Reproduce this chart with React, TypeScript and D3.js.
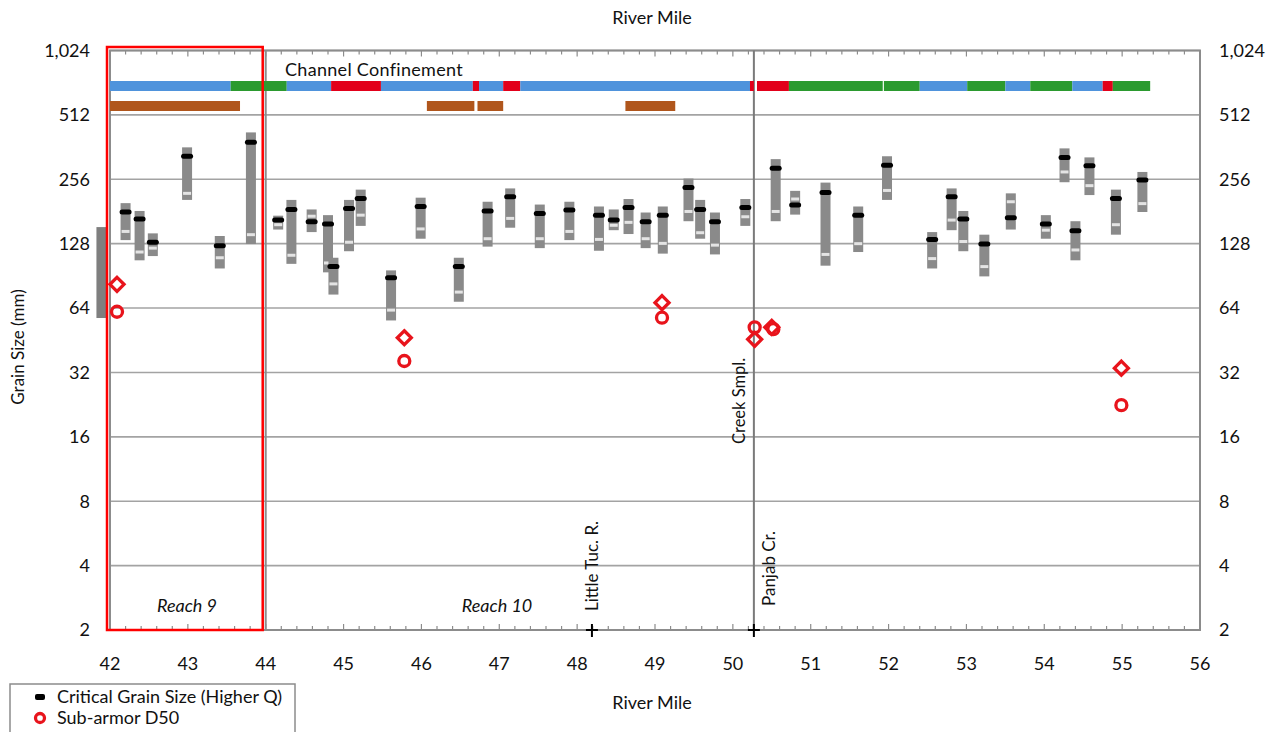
import React from "react";
import * as d3 from "d3";

const width = 1271;
const height = 732;

// Grain size bars (mm)
const barMiles = [42.2, 42.38, 42.55, 42.99, 43.41, 43.81, 44.16, 44.33, 44.59, 44.8, 44.87, 45.07, 45.22, 45.61, 45.99, 46.48, 46.85, 47.14, 47.52, 47.9, 48.28, 48.47, 48.66, 48.88, 49.1, 49.43, 49.58, 49.77, 50.16, 50.55, 50.8, 51.19, 51.61, 51.98, 52.56, 52.81, 52.96, 53.23, 53.57, 54.02, 54.26, 54.4, 54.58, 54.92, 55.26];
const barHigh = [198, 182, 143, 361, 139, 424, 173, 205, 185, 174, 110, 205, 229, 96, 210, 110, 201, 232, 195, 201, 191, 185, 207, 179, 191, 258, 205, 179, 207, 318, 226, 247, 191, 328, 145, 232, 182, 141, 220, 174, 357, 163, 324, 229, 277];
const barLow = [133, 107, 112, 205, 98, 127.5, 149, 103, 145, 94, 74, 118, 155, 56, 135, 68.5, 124, 152, 122, 133, 118.6, 148, 142, 122, 115, 163, 135, 114, 155, 163, 175, 101, 117, 205, 98, 148, 118, 90, 149, 135, 248, 107, 216, 141, 180];
const critSize = [180, 167, 130, 328, 125, 381, 165, 185, 162, 158, 100, 187, 208, 88.6, 191, 100, 182, 212, 177, 184, 174, 165, 189, 162, 174, 234, 185, 162, 189, 288, 194, 222, 174, 298, 134, 212, 167, 127.5, 169, 158, 324, 147, 296, 208, 254];
const lightSize = [146, 117, 122, 220, 110, 141, 157, 113, 172, 104, 83, 130, 174, 62.6, 150, 76, 135, 168, 135, 146, 134, 156, 161, 135, 128.4, 181, 144, 126, 171, 181, 207, 114, 128, 227, 109, 165, 131, 100, 201, 148, 277, 119.6, 239, 157, 197];

// partial bar left of the frame
const edgeBar = { mile: 41.89, high: 153, low: 57.5 };

// Channel confinement segments
const confStart = [42.0, 43.55, 44.27, 44.84, 45.48, 46.66, 46.74, 47.05, 47.27, 50.22, 50.31, 50.72, 51.94, 52.4, 53.01, 53.5, 53.82, 54.36, 54.75, 54.88];
const confEnd = [43.55, 44.27, 44.84, 45.48, 46.66, 46.74, 47.05, 47.27, 50.22, 50.27, 50.72, 51.925, 52.4, 53.01, 53.5, 53.82, 54.36, 54.75, 54.88, 55.36];
const confType = ["u", "c", "u", "p", "u", "p", "u", "p", "u", "p", "p", "c", "c", "u", "c", "u", "c", "u", "p", "c"];

const bankStart = [42.0, 46.07, 46.72, 48.62];
const bankEnd = [43.67, 46.68, 47.05, 49.26];

// Sub-armor samples
const diamondMiles = [42.09, 45.78, 49.09, 50.28, 50.5, 54.99];
const diamondSizes = [82.6, 46.5, 67.8, 45.7, 52, 33.5];
const circleMiles = [42.09, 45.78, 49.09, 50.28, 50.52, 54.99];
const circleSizes = [61.5, 36.2, 57.7, 52, 51, 22.5];

const yTicks = [2, 4, 8, 16, 32, 64, 128, 256, 512, 1024];
const xTicks = d3.range(42, 57, 1);

const confColor: Record<string, string> = {
  u: "#4f93dc",
  c: "#2b9a2f",
  p: "#e2001a",
};

const font = "Lato, 'Open Sans', sans-serif";
const red = "#e8141c";

export default function App() {
  const x = d3.scaleLinear().domain([42, 56]).range([110, 1200]);
  const y = d3.scaleLog().base(2).domain([2, 1024]).range([630, 50.5]);
  const fmt = d3.format(",");
  const minor = d3.range(0, 71).map((i) => 42 + i * 0.2);
  const x0 = x(42);
  const x1 = x(56);
  const yTop = y(1024);
  const yBot = y(2);
  const bw = 10;

  return (
    <svg
      width={width}
      height={height}
      style={{ position: "absolute", left: 0, top: 0, display: "block", background: "#fff" }}
      fontFamily={font}
    >
      {/* gridlines */}
      {yTicks.map((t) => (
        <line key={t} x1={x0} x2={x1} y1={y(t)} y2={y(t)} stroke="#a3a3a3" strokeWidth={1.6} />
      ))}

      {/* frame */}
      <rect x={x0} y={yTop} width={x1 - x0} height={yBot - yTop} fill="none" stroke="#8c8c8c" strokeWidth={2} />
      <line x1={x(44)} x2={x(44)} y1={yTop} y2={yBot} stroke="#8c8c8c" strokeWidth={2} />
      <line x1={x(50.27)} x2={x(50.27)} y1={yTop} y2={yBot} stroke="#7a7a7a" strokeWidth={2} />

      {/* minor ticks */}
      {minor.map((m, i) => {
        const len = i % 5 === 0 ? 6 : 4;
        return (
          <g key={i} stroke="#8c8c8c" strokeWidth={1.2}>
            <line x1={x(m)} x2={x(m)} y1={yBot} y2={yBot - len} />
            <line x1={x(m)} x2={x(m)} y1={yTop} y2={yTop + len} />
          </g>
        );
      })}

      {/* confinement */}
      {confStart.map((s, i) => (
        <rect key={i} x={x(s)} y={81} width={x(confEnd[i]) - x(s)} height={10} fill={confColor[confType[i]]} />
      ))}
      {bankStart.map((s, i) => (
        <rect key={i} x={x(s)} y={101} width={x(bankEnd[i]) - x(s)} height={10} fill="#b0561c" />
      ))}
      <text x={285} y={76} fontSize={18} letterSpacing={0.3} fill="#111">Channel Confinement</text>

      {/* edge bar */}
      <rect
        x={x(edgeBar.mile) - 5}
        y={y(edgeBar.high)}
        width={10}
        height={y(edgeBar.low) - y(edgeBar.high)}
        fill="#7f7f7f"
      />

      {/* grain size bars */}
      {barMiles.map((m, i) => (
        <g key={i}>
          <rect x={x(m) - bw / 2} y={y(barHigh[i])} width={bw} height={y(barLow[i]) - y(barHigh[i])} fill="#8a8a8a" />
          <rect x={x(m) - 4} y={y(lightSize[i]) - 1.5} width={8} height={3} fill="#e4e4e4" />
          <rect x={x(m) - 6} y={y(critSize[i]) - 2.5} width={12} height={5} rx={2.5} fill="#000" />
        </g>
      ))}

      {/* sub-armor markers */}
      {diamondMiles.map((m, i) => {
        const cx = x(m);
        const cy = y(diamondSizes[i]);
        return (
          <path
            key={i}
            d={`M${cx},${cy - 7}L${cx + 7},${cy}L${cx},${cy + 7}L${cx - 7},${cy}Z`}
            fill="none"
            stroke={red}
            strokeWidth={3.3}
          />
        );
      })}
      {circleMiles.map((m, i) => (
        <circle key={i} cx={x(m)} cy={y(circleSizes[i])} r={5.5} fill="none" stroke={red} strokeWidth={3.3} />
      ))}

      {/* reach box */}
      <rect x={107} y={47} width={x(44) - 3 - 107} height={yBot - 47} fill="none" stroke="#ff0000" strokeWidth={2.5} />

      {/* tributary markers */}
      {[48.19, 50.27].map((m) => (
        <g key={m} stroke="#000" strokeWidth={2}>
          <line x1={x(m) - 6} x2={x(m) + 6} y1={yBot} y2={yBot} />
          <line x1={x(m)} x2={x(m)} y1={yBot - 6} y2={yBot + 7} />
        </g>
      ))}
      <text transform={`translate(${x(48.19) + 6},611) rotate(-90)`} fontSize={17} fill="#111">Little Tuc. R.</text>
      <text transform={`translate(${x(50.27) - 9},444) rotate(-90)`} fontSize={16.5} fill="#111">Creek Smpl.</text>
      <text transform={`translate(${x(50.27) + 21},606) rotate(-90)`} fontSize={17} fill="#111">Panjab Cr.</text>

      <text x={187} y={612} fontSize={18} fontStyle="italic" textAnchor="middle" fill="#111">Reach 9</text>
      <text x={497} y={612} fontSize={18} fontStyle="italic" textAnchor="middle" fill="#111">Reach 10</text>

      {/* y tick labels */}
      {yTicks.map((t) => (
        <g key={t} fontSize={18} fill="#111">
          <text x={90} y={y(t)} dy="0.35em" textAnchor="end">{fmt(t)}</text>
          <text x={1219} y={y(t)} dy="0.35em" textAnchor="start">{fmt(t)}</text>
        </g>
      ))}

      {/* x tick labels */}
      {xTicks.map((t) => (
        <text key={t} x={x(t)} y={664} dy="0.35em" fontSize={18} textAnchor="middle" fill="#111">{t}</text>
      ))}

      <text x={652} y={24} fontSize={18} textAnchor="middle" fill="#111">River Mile</text>
      <text x={652} y={709} fontSize={18} textAnchor="middle" fill="#111">River Mile</text>
      <text transform="translate(24,347) rotate(-90)" fontSize={17} textAnchor="middle" fill="#111">Grain Size (mm)</text>

      {/* legend */}
      <rect x={10} y={684} width={285} height={60} fill="#fff" stroke="#8c8c8c" strokeWidth={1.5} />
      <rect x={35} y={694} width={10} height={6} rx={2} fill="#000" />
      <text x={57} y={697} dy="0.35em" fontSize={18} fill="#111">Critical Grain Size (Higher Q)</text>
      <circle cx={40} cy={718} r={4.5} fill="none" stroke={red} strokeWidth={3.3} />
      <text x={57} y={718} dy="0.35em" fontSize={18} fill="#111">Sub-armor D50</text>
    </svg>
  );
}
